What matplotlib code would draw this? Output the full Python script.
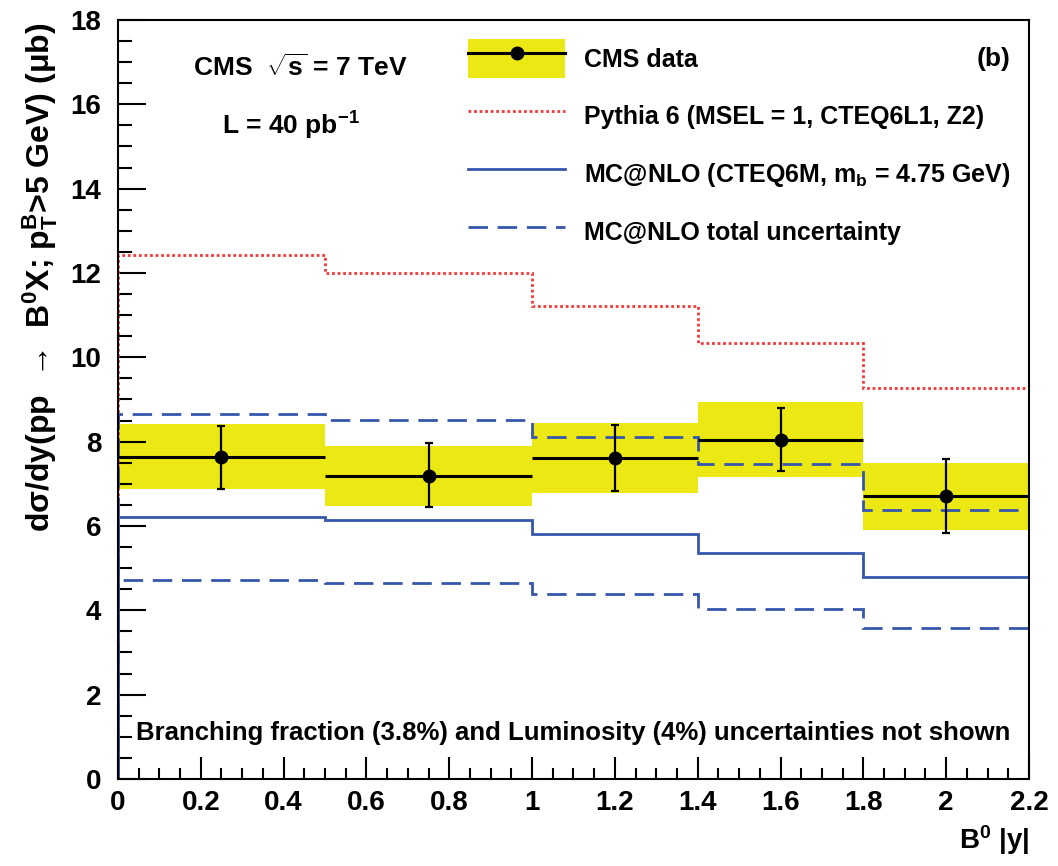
import numpy as np
import matplotlib
matplotlib.use("Agg")
import matplotlib.pyplot as plt
from matplotlib.lines import Line2D
from matplotlib.patches import Patch
from matplotlib.ticker import MultipleLocator, FormatStrFormatter
from matplotlib import font_manager

# ---------------------------------------------------------------------------
# Data: B0 |y| bins, CMS data and theory predictions (ub)
# ---------------------------------------------------------------------------
bin_edges   = [0.0, 0.5, 1.0, 1.4, 1.8, 2.2]
data_x      = [0.25, 0.75, 1.2, 1.6, 2.0]
data_y      = [7.64, 7.19, 7.60, 8.05, 6.71]
data_err_lo = [0.76, 0.74, 0.77, 0.74, 0.88]
data_err_hi = [0.73, 0.78, 0.79, 0.75, 0.88]
band_lo     = [6.88, 6.47, 6.77, 7.16, 5.90]
band_hi     = [8.42, 7.90, 8.44, 8.94, 7.50]
pythia      = [12.42, 12.01, 11.22, 10.35, 9.26]
mcnlo       = [6.22, 6.14, 5.81, 5.37, 4.80]
mcnlo_up    = [8.66, 8.52, 8.12, 7.46, 6.37]
mcnlo_down  = [4.72, 4.65, 4.38, 4.03, 3.59]

YELLOW = "#ECE814"
BLUE   = "#3656AC"
RED    = "#F03A3A"

installed = {f.name for f in font_manager.fontManager.ttflist}
main_font = "Liberation Sans Narrow" if "Liberation Sans Narrow" in installed else "Liberation Sans"

plt.rcParams["font.family"] = [main_font, "DejaVu Sans"]
plt.rcParams["font.weight"] = "bold"
plt.rcParams["axes.labelweight"] = "bold"
plt.rcParams["mathtext.fontset"] = "custom"
plt.rcParams["mathtext.rm"] = f"{main_font}:bold"
plt.rcParams["mathtext.it"] = f"{main_font}:bold"
plt.rcParams["mathtext.bf"] = f"{main_font}:bold"
plt.rcParams["mathtext.default"] = "rm"

fig = plt.figure(figsize=(10.58, 8.66), dpi=100)
ax = fig.add_axes([0.1115, 0.1005, 0.8611, 0.8765])

edges = np.array(bin_edges)
centers = 0.5 * (edges[:-1] + edges[1:])
widths = np.diff(edges)

# yellow total-uncertainty band of the data
ax.bar(centers, np.array(band_hi) - np.array(band_lo), bottom=band_lo,
       width=widths, color=YELLOW, edgecolor="none", zorder=1)

# theory curves
ax.stairs(pythia, edges, color=RED, lw=2.0, linestyle=(0, (1, 1)), zorder=2)
ax.stairs(mcnlo, edges, color=BLUE, lw=2.0, zorder=2)
ax.stairs(mcnlo_up, edges, color=BLUE, lw=2.0, linestyle=(0, (7, 3.5)), zorder=2)
ax.stairs(mcnlo_down, edges, color=BLUE, lw=2.0, linestyle=(0, (7, 3.5)), zorder=2)

# data points
ax.hlines(data_y, edges[:-1], edges[1:], color="black", lw=2.2, zorder=3)
ax.errorbar(data_x, data_y, yerr=[data_err_lo, data_err_hi], fmt="o",
            color="black", ms=9, elinewidth=1.6, capsize=3, capthick=1.6, zorder=4)

ax.set_xlim(0, 2.2)
ax.set_ylim(0, 18)
ax.xaxis.set_major_locator(MultipleLocator(0.2))
ax.xaxis.set_minor_locator(MultipleLocator(0.05))
ax.xaxis.set_major_formatter(FormatStrFormatter("%g"))
ax.yaxis.set_major_locator(MultipleLocator(2))
ax.yaxis.set_minor_locator(MultipleLocator(0.5))

ax.tick_params(axis="both", which="both", direction="in", width=1.5,
               top=False, right=False, labelsize=20)
ax.tick_params(axis="x", which="major", length=16, pad=8)
ax.tick_params(axis="x", which="minor", length=8)
ax.tick_params(axis="y", which="major", length=20, pad=12)
ax.tick_params(axis="y", which="minor", length=10)
for sp in ax.spines.values():
    sp.set_linewidth(1.5)

ax.set_ylabel("d$\\sigma$/dy(pp  \u2192  B$^{0}$X; p$_{T}^{B}$>5 GeV) ($\\mu$b)",
              fontsize=23, loc="top")
ax.yaxis.set_label_coords(-0.064, 0.997)
ax.set_xlabel(r"B$^{0}$ |y|", fontsize=20, loc="right")
ax.xaxis.set_label_coords(1.0, -0.058)

ax.text(0.2, 0.937, r"CMS  $\sqrt{s}$ = 7 TeV", transform=ax.transAxes,
        ha="center", va="center", fontsize=19)
ax.text(0.19, 0.86, r"L = 40 pb$^{-1}$", transform=ax.transAxes,
        ha="center", va="center", fontsize=19)
ax.text(0.98, 0.949, "(b)", transform=ax.transAxes,
        ha="right", va="center", fontsize=19)
ax.text(0.5, 0.06, "Branching fraction (3.8%) and Luminosity (4%) uncertainties not shown",
        transform=ax.transAxes, ha="center", va="center", fontsize=18.5)

handles = [
    (Patch(facecolor=YELLOW, edgecolor="none"),
     Line2D([], [], color="black", lw=2.2, marker="o", ms=9)),
    Line2D([], [], color=RED, lw=2.0, linestyle=(0, (1, 1))),
    Line2D([], [], color=BLUE, lw=2.0),
    Line2D([], [], color=BLUE, lw=2.0, linestyle=(0, (7, 3.5))),
]
labels = [
    "CMS data",
    "Pythia 6 (MSEL = 1, CTEQ6L1, Z2)",
    r"MC@NLO (CTEQ6M, m$_{b}$ = 4.75 GeV)",
    "MC@NLO total uncertainty",
]
ax.legend(handles, labels, loc="upper left", bbox_to_anchor=(0.384, 0.975),
          frameon=False, fontsize=18, borderpad=0, borderaxespad=0,
          handlelength=3.9, handleheight=2.05, labelspacing=0.74,
          handletextpad=0.76)

fig.savefig("out.png", dpi=100, facecolor="white")
